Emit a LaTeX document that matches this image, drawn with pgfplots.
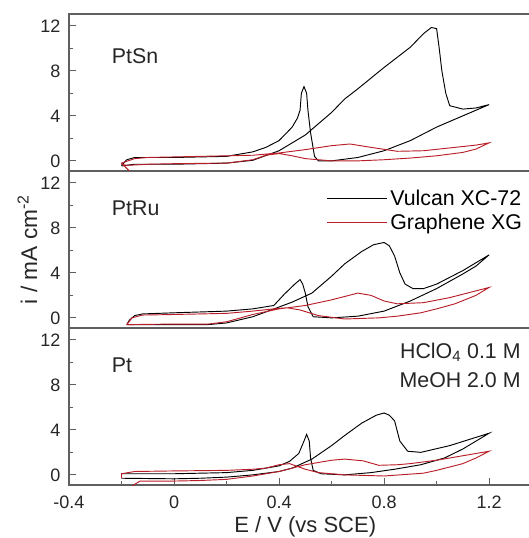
\documentclass[border=0pt]{standalone}
\usepackage{fontspec}
\setmainfont{Liberation Sans}
\usepackage{pgfplots}
\pgfplotsset{compat=1.18}

\definecolor{cvred}{RGB}{185,30,40}
\definecolor{framegray}{RGB}{95,95,95}

\pgfplotsset{
  cvpanel/.style={
    scale only axis, width=346pt, height=117.75pt,
    anchor=south west,
    xmin=-0.4, xmax=1.357, ymin=-0.9, ymax=13.05,
    ytick={0,4,8,12}, minor ytick={2,6,10},
    ytick pos=left, tick align=inside,
    major tick length=5pt, minor tick length=3pt,
    axis line style={framegray, line width=0.9pt},
    every tick/.style={framegray, line width=0.7pt},
    tick label style={font=\fontsize{13.5}{15}\selectfont, text=black!85},
    yticklabel style={xshift=-3pt},
    /pgf/number format/assume math mode=true,
  },
  vulcan/.style={black, line width=0.7pt},
  graphene/.style={cvred, line width=0.7pt},
}
\tikzset{panellabel/.style={font=\fontsize{16}{18}\selectfont, text=black!85}}

\begin{document}
\begin{tikzpicture}
\useasboundingbox (-51.75pt,-39.75pt) rectangle (344.25pt,363.75pt);

% ---- Pt (bottom) ----
\begin{axis}[cvpanel, at={(0pt,0pt)},
  xtick={-0.4,0,0.4,0.8,1.2}, minor xtick={-0.2,0.2,0.6,1.0},
  xtick pos=bottom,
  xticklabels={-0.4,0,0.4,0.8,1.2},
  xticklabel style={yshift=-5pt},
  xlabel={E / V (vs SCE)},
  xlabel style={font=\fontsize{16.5}{18}\selectfont, text=black!85,
    at={(axis description cs:0.512,0)}, anchor=center, yshift=-31pt}]
\addplot[vulcan] coordinates {
  (-0.2,-0.3) (0,-0.35) (0.1,-0.3) (0.2,-0.2) (0.3,0.0) (0.4,0.3) (0.45,0.6)
  (0.525,1.4) (0.6,2.6) (0.65,3.5) (0.715,4.6) (0.77,5.3) (0.8,5.5) (0.82,5.3)
  (0.84,4.8) (0.86,3.0) (0.89,2.1) (0.94,2.0) (1.05,2.6) (1.2,3.7)
  (1.1,2.3) (1.03,1.5) (0.94,0.9) (0.84,0.5) (0.75,0.2) (0.65,0.0) (0.56,0.1)
  (0.53,0.4) (0.52,1.5) (0.515,3.0) (0.505,3.6) (0.495,3.0) (0.475,1.9)
  (0.44,1.2) (0.4,0.8) (0.3,0.4) (0.2,0.2) (0.0,0.1) (-0.2,0.1) (-0.2,-0.3)};
\addplot[graphene] coordinates {
  (-0.16,-1.0) (-0.13,-0.55) (0,-0.55) (0.1,-0.5) (0.2,-0.4) (0.3,-0.1)
  (0.4,0.3) (0.5,0.9) (0.6,1.3) (0.65,1.4) (0.72,1.25) (0.78,0.85) (0.85,0.9)
  (0.9,1.0) (1.0,1.3) (1.1,1.7) (1.2,2.1)
  (1.15,1.5) (1.1,1.0) (1.0,0.4) (0.95,0.15) (0.8,-0.1) (0.65,0.0) (0.55,0.2)
  (0.5,0.5) (0.44,1.0) (0.4,0.9) (0.35,0.6) (0.3,0.5) (0.2,0.4) (0,0.35)
  (-0.15,0.3) (-0.2,0.1) (-0.2,-0.3)};
\node[panellabel, anchor=west] at (rel axis cs:0.083,0.764) {Pt};
\node[panellabel, anchor=east] at (rel axis cs:0.989,0.845) {HClO\textsubscript{4} 0.1 M};
\node[panellabel, anchor=east] at (rel axis cs:0.989,0.665) {MeOH 2.0 M};
\end{axis}

% ---- PtRu (middle) ----
\begin{axis}[cvpanel, at={(0pt,117.75pt)}, xtick=\empty,
  ylabel={i / mA cm\textsuperscript{-2}},
  ylabel style={font=\fontsize{17}{19}\selectfont, text=black!85,
    at={(axis description cs:-0.09,0.5)}, anchor=center},
  legend style={draw=none, fill=none, at={(rel axis cs:0.997,0.915)}, anchor=north east,
    font=\fontsize{16}{18}\selectfont, row sep=1pt},
  legend cell align=left,
  legend image code/.code={\draw[#1] (0pt,0pt) -- (40pt,0pt); \path (0pt,0pt) -- (45pt,0pt);}]
\addplot[vulcan] coordinates {
  (-0.18,-0.6) (0,-0.6) (0.13,-0.6) (0.2,-0.45) (0.3,0.1) (0.37,0.7) (0.45,1.4)
  (0.525,2.2) (0.6,3.7) (0.65,4.8) (0.715,5.9) (0.76,6.5) (0.8,6.7) (0.82,6.4)
  (0.84,5.5) (0.86,4.0) (0.88,3.0) (0.91,2.6) (0.95,2.6) (1.0,3.0) (1.1,4.2) (1.2,5.6)
  (1.15,4.6) (1.1,3.9) (1.0,2.6) (0.9,1.5) (0.8,0.6) (0.7,0.15) (0.6,0.0)
  (0.53,0.1) (0.51,1.0) (0.5,2.2) (0.49,3.0) (0.48,3.4) (0.46,3.0) (0.42,2.1)
  (0.38,1.1) (0.3,0.8) (0.2,0.6) (0.0,0.45) (-0.12,0.35) (-0.15,0.2) (-0.17,-0.2) (-0.18,-0.6)};
\addlegendentry{Vulcan XC-72}
\addplot[graphene] coordinates {
  (-0.18,-0.6) (0,-0.55) (0.13,-0.55) (0.2,-0.35) (0.3,0.3) (0.4,0.8) (0.5,1.1)
  (0.6,1.6) (0.7,2.2) (0.75,2.0) (0.8,1.5) (0.85,1.25) (0.95,1.35) (1.05,1.8)
  (1.15,2.4) (1.2,2.7)
  (1.15,2.0) (1.07,1.25) (1.0,0.8) (0.94,0.45) (0.85,0.15) (0.78,0.0) (0.65,-0.1)
  (0.55,0.2) (0.48,0.7) (0.43,0.9) (0.38,0.8) (0.3,0.6) (0.2,0.4) (0,0.3)
  (-0.12,0.25) (-0.16,0.0) (-0.18,-0.6)};
\addlegendentry{Graphene XG}
\node[panellabel, anchor=west] at (rel axis cs:0.083,0.764) {PtRu};
\end{axis}

% ---- PtSn (top) ----
\begin{axis}[cvpanel, at={(0pt,235.5pt)}, xtick=\empty]
\addplot[vulcan] coordinates {
  (-0.2,-0.45) (-0.15,-0.3) (0,-0.3) (0.2,-0.2) (0.3,0.05) (0.4,0.9) (0.5,2.3)
  (0.6,4.3) (0.65,5.5) (0.7,6.4) (0.8,8.3) (0.9,10.1) (0.95,11.3) (0.98,11.85)
  (1.0,11.75) (1.01,10.0) (1.02,8.0) (1.035,6.0) (1.05,4.9) (1.1,4.6) (1.15,4.7) (1.2,5.0)
  (1.15,4.5) (1.1,4.0) (1.0,3.0) (0.9,1.8) (0.8,0.9) (0.7,0.3) (0.6,0.0) (0.55,0.0)
  (0.535,0.4) (0.52,2.5) (0.51,4.5) (0.505,6.0) (0.495,6.6) (0.485,6.0) (0.48,4.5)
  (0.47,3.8) (0.45,3.0) (0.4,1.8) (0.35,1.2) (0.3,0.8) (0.2,0.4) (0,0.3)
  (-0.15,0.3) (-0.18,0.1) (-0.2,-0.4)};
\addplot[graphene] coordinates {
  (-0.17,-0.9) (-0.2,-0.2) (-0.15,0.2) (-0.1,0.3) (0,0.35) (0.2,0.45) (0.3,0.5)
  (0.4,0.7) (0.5,1.0) (0.6,1.35) (0.67,1.5) (0.75,1.2) (0.85,0.85) (0.95,0.9)
  (1.05,1.15) (1.15,1.4) (1.2,1.6)
  (1.15,1.05) (1.1,0.75) (1.0,0.45) (0.9,0.25) (0.8,0.1) (0.7,0.0) (0.6,0.0)
  (0.5,0.2) (0.45,0.45) (0.4,0.65) (0.35,0.5) (0.3,0.1) (0.2,-0.2) (0.0,-0.25)
  (-0.1,-0.3) (-0.18,-0.4) (-0.2,-0.3)};
\node[panellabel, anchor=west] at (rel axis cs:0.083,0.73) {PtSn};
\end{axis}
\end{tikzpicture}
\end{document}
